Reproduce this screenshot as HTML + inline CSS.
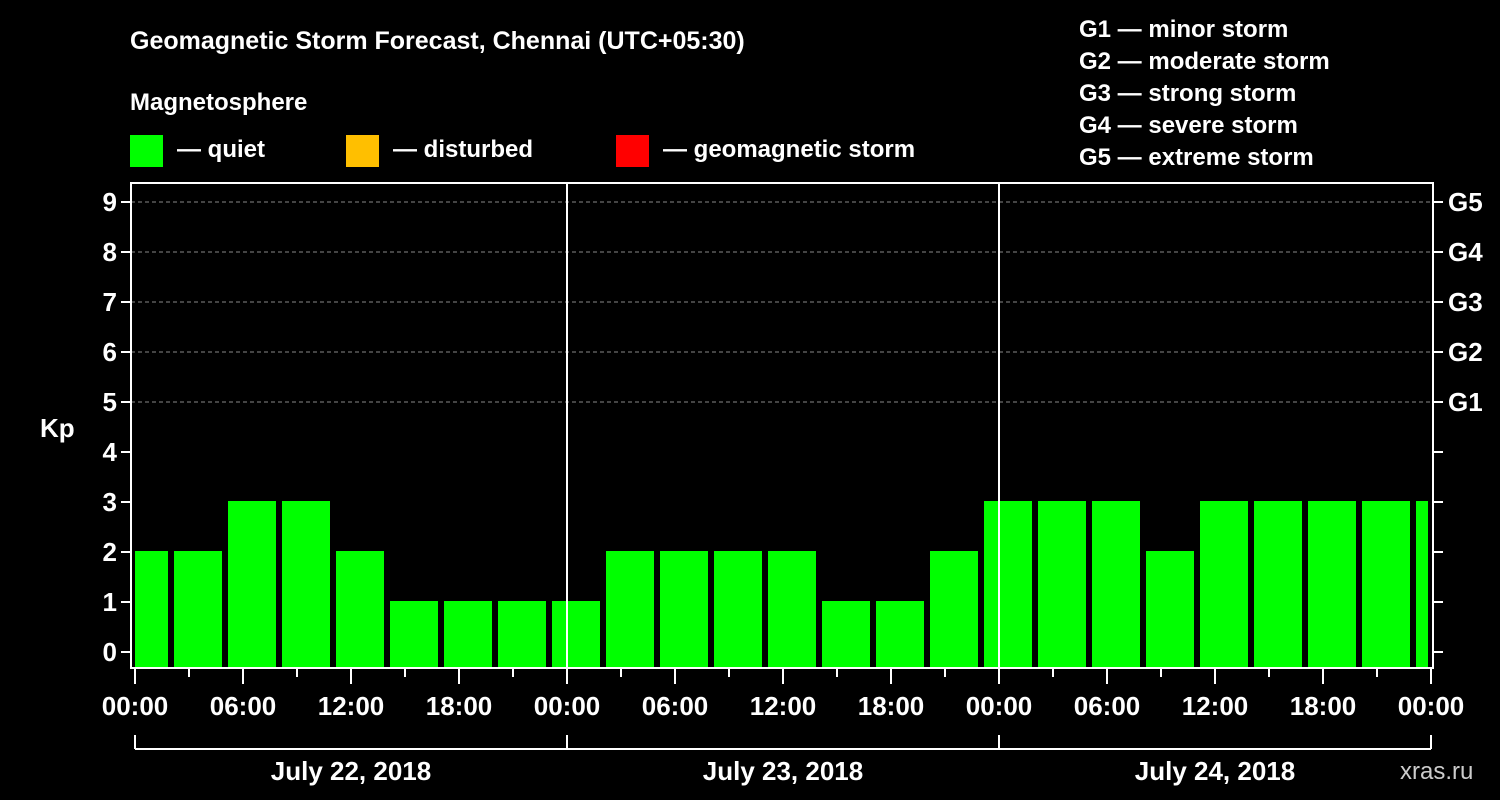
<!DOCTYPE html>
<html><head><meta charset="utf-8">
<style>
html,body{margin:0;padding:0;background:#000;width:1500px;height:800px;overflow:hidden}
svg{display:block}
text{font-family:"Liberation Sans",sans-serif;font-weight:bold;fill:#fff}
</style></head>
<body>
<svg id="chart" width="1500" height="800" xmlns="http://www.w3.org/2000/svg">
<text x="130" y="49" font-size="25">Geomagnetic Storm Forecast, Chennai (UTC+05:30)</text>
<text x="130" y="110" font-size="24">Magnetosphere</text>
<rect x="130" y="135" width="33" height="32" fill="#00ff00"/>
<text x="177" y="157" font-size="24">— quiet</text>
<rect x="346" y="135" width="33" height="32" fill="#ffbf00"/>
<text x="393" y="157" font-size="24">— disturbed</text>
<rect x="616" y="135" width="33" height="32" fill="#ff0000"/>
<text x="663" y="157" font-size="24">— geomagnetic storm</text>
<g font-size="24">
<text x="1079" y="37">G1 — minor storm</text>
<text x="1079" y="69">G2 — moderate storm</text>
<text x="1079" y="101">G3 — strong storm</text>
<text x="1079" y="133">G4 — severe storm</text>
<text x="1079" y="165">G5 — extreme storm</text>
</g>
<text x="40" y="437" font-size="26">Kp</text>
<text x="1400" y="779" font-size="24" fill="#ccc" style="fill:#ccc;font-weight:normal">xras.ru</text>
<g id="grid"></g><g id="bars"></g><g id="axes"></g>
</svg>
<script>
const kpValues=[2,2,3,3,2,1,1,1,1,2,2,2,2,1,1,2,3,3,3,2,3,3,3,3,3];
const yTicks=[0,1,2,3,4,5,6,7,8,9];
const gLabels=["G1","G2","G3","G4","G5"];
const xTickLabels=["00:00","06:00","12:00","18:00","00:00","06:00","12:00","18:00","00:00","06:00","12:00","18:00","00:00"];
const dayLabels=["July 22, 2018","July 23, 2018","July 24, 2018"];
const firstBarHour=-1; // bars span [-1h,2h], [2h,5h], ...

const NS="http://www.w3.org/2000/svg";
const X0=135, PXH=18, L=131, R=1433, T=183, B=668;
const xs=h=>X0+h*PXH;
const ys=v=>652-v*50;
function mk(tag,attrs,parent){const e=document.createElementNS(NS,tag);for(const k in attrs)e.setAttribute(k,attrs[k]);parent.appendChild(e);return e;}
const grid=document.getElementById('grid'),bars=document.getElementById('bars'),axes=document.getElementById('axes');

for(let i=5;i<=9;i++){
  const g=mk('line',{x1:L,x2:R,y1:ys(i),y2:ys(i),stroke:'#888','stroke-dasharray':'4,3','stroke-width':1},grid);
  
  
}
kpValues.forEach((v,i)=>{
  let a=xs(firstBarHour+i*3)+3, b=xs(firstBarHour+(i+1)*3)-3;
  a=Math.max(a,L+4); b=Math.min(b,R-5);
  const col=v>=5?'#ff0000':(v>=4?'#ffbf00':'#00ff00');
  const r=mk('rect',{x:a,y:ys(v)-1,width:b-a,height:B-1-(ys(v)-1),fill:col},bars);
  
  
});
// day separators
for(let d=1;d<dayLabels.length;d++){
  const l=mk('line',{x1:xs(d*24),x2:xs(d*24),y1:T,y2:B,stroke:'#fff','stroke-width':2},axes);
  
  
}
const fr=mk('rect',{x:L,y:T,width:R-L,height:B-T,fill:'none',stroke:'#fff','stroke-width':2},axes);


yTicks.forEach(v=>{
  mk('line',{x1:L-10,x2:L,y1:ys(v),y2:ys(v),stroke:'#fff','stroke-width':2},axes);
  mk('line',{x1:R,x2:R+10,y1:ys(v),y2:ys(v),stroke:'#fff','stroke-width':2},axes);
  const t=mk('text',{x:L-14,y:ys(v)+9,'font-size':26,'text-anchor':'end'},axes);
  t.textContent=v;
  
  
});
gLabels.forEach((g,i)=>{
  const t=mk('text',{x:1448,y:ys(5+i)+9,'font-size':26},axes);
  t.textContent=g;
  
  
});
for(let h=0;h<=dayLabels.length*24;h+=3){
  const major=h%6===0;
  mk('line',{x1:xs(h),x2:xs(h),y1:B,y2:B+(major?16:9),stroke:'#fff','stroke-width':2},axes);
}
xTickLabels.forEach((s,i)=>{
  const t=mk('text',{x:xs(i*6),y:715,'font-size':26,'text-anchor':'middle'},axes);
  t.textContent=s;
  
  
});
const br=mk('path',{d:'',stroke:'#fff','stroke-width':2,fill:'none'},axes);
let d='M'+xs(0)+' 749 H'+xs(dayLabels.length*24);
for(let i=0;i<=dayLabels.length;i++) d+=' M'+xs(i*24)+' 735 V749';
br.setAttribute('d',d);


dayLabels.forEach((s,i)=>{
  const t=mk('text',{x:xs(i*24+12),y:780,'font-size':26,'text-anchor':'middle'},axes);
  t.textContent=s;
  
  
});
</script>
</body></html>
